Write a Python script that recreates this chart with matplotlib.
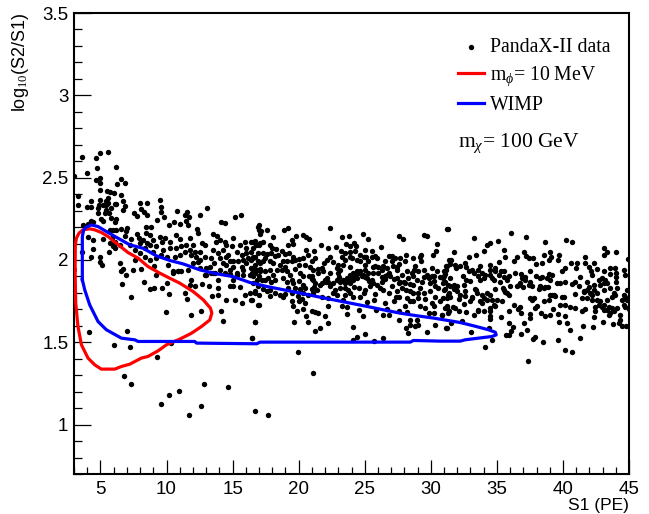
import numpy as np
import matplotlib
matplotlib.use('Agg')
import matplotlib.pyplot as plt
from matplotlib.ticker import MultipleLocator, FixedLocator

# values: (S1, log10(S2/S1))
data_low_s1 = [
 (3.58,2.624),(4.69,2.618),(4.97,2.652),(5.6,2.656),(4.74,2.557),(6.16,2.563),(3.98,2.527),(3.02,2.507),
 (4.7,2.486),(4.97,2.496),(5.0,2.47),(6.56,2.492),(6.25,2.46),(6.86,2.466),(5.0,2.426),(5.47,2.42),
 (5.7,2.413),(6.0,2.405),(6.56,2.393),(3.33,2.391),(3.33,2.332),(4.3,2.359),(3.98,2.324),(4.26,2.324),
 (5.0,2.365),(5.6,2.379),(5.58,2.349),(5.4,2.334),(4.89,2.335),(5.2,2.335),(4.82,2.288),(5.32,2.288),
 (5.65,2.284),(5.07,2.248),(5.2,2.239),(5.83,2.254),(6.08,2.233),(6.2,2.248),(6.71,2.361),(6.84,2.329),
 (6.2,2.341),(6.71,2.304),(7.52,2.288),(7.77,2.268),(8.03,2.349),(8.53,2.345),(8.1,2.308),(8.28,2.294),
 (8.53,2.274),(9.51,2.365),(9.61,2.324),(9.61,2.294),(9.79,2.26),(9.29,2.244),(10.83,2.3),(11.56,2.294),
 (11.71,2.26),(12.52,2.276),(13.1,2.314),(11.38,2.274),(10.58,2.229),(10.2,2.213),(11.05,2.217),(11.46,2.239),
 (11.64,2.213),(12.34,2.189),(12.39,2.163),(8.48,2.199),(8.86,2.203),(8.43,2.166),(8.73,2.152),(7.04,2.193),
 (6.96,2.173),(6.59,2.187),(5.95,2.183),(6.2,2.183),(4.44,2.233),(4.26,2.239),(4.06,2.219),(3.68,2.213),
 (7.34,2.126),(7.8,2.158),(7.92,2.132),(7.97,2.106),(9.49,2.138),(9.87,2.132),(10.75,2.152),(9.69,2.112),
 (10.25,2.112),(11.0,2.126),(11.76,2.132),(12.01,2.092),(12.65,2.102),(12.9,2.092),(13.53,2.158),(13.83,2.146),
 (14.16,2.233),(14.46,2.223),(15.17,2.258),(15.6,2.274),(15.04,2.132),(13.73,2.112),(14.03,2.122),(14.41,2.112),
 (13.53,2.061),(13.91,2.041),(14.29,2.061),(14.67,2.031),(15.55,2.092),(15.93,2.112),(16.56,2.112),(16.05,2.071),
 (16.43,2.051),(16.94,2.203),(17.0,2.183),(16.81,2.092),(15.04,1.991),(15.42,1.991),(15.8,2.001),(16.18,2.011),
 (16.56,2.021),(14.54,1.97),(14.29,1.984),(13.28,1.96),(13.02,1.95),(12.9,2.021),(12.52,2.051),(12.14,2.051),
 (11.89,2.031),(11.38,2.051),(11.0,2.031),(10.63,2.017),(10.25,2.071),(9.24,2.082),(8.73,2.092),(8.35,2.071),
 (7.97,2.041),(7.6,2.061),(7.2,2.092),(6.46,2.092),(6.08,2.112),(6.08,2.071),(5.65,2.051),(4.44,2.067),
 (4.06,2.142),(4.44,2.122),(5.2,2.126),(3.61,2.051),(4.26,2.017),(4.94,2.021),(4.94,1.99),(5.12,1.972),
 (6.46,1.98),(6.71,1.944),(7.47,1.94),(8.1,1.944),(6.96,1.906),(8.73,2.0),(9.24,2.011),(9.06,1.964),
 (10.12,1.97),(10.88,1.93),(11.13,1.93),(11.64,1.94),(12.52,1.95),(12.9,1.91),(13.53,1.92),(13.58,1.98),
 (14.03,2.011),(15.3,1.92),(15.8,1.94),(16.31,1.91),(16.81,1.94),(17.06,1.93),(16.69,1.97),(16.05,2.041),
 (6.84,2.146),(5.88,2.132),(6.03,2.092),(4.82,2.314),(5.45,2.304),(5.83,2.318),(6.08,2.341),(5.45,2.359),
 (6.59,1.934),(6.61,1.857),(8.3,1.869),(8.73,1.823),(9.03,1.831),(10.05,1.863),(9.67,1.829),(10.2,1.792),
 (9.19,1.908),(7.32,1.774),(11.43,1.798),(11.53,1.76),(11.76,1.849),(12.14,1.843),(12.65,1.855),(13.2,1.839),
 (13.86,1.879),(13.91,1.829),(13.86,1.788),(13.45,1.78),(14.49,1.754),(15.22,1.758),(15.7,1.736),(15.93,1.788),
 (16.31,1.798),(16.69,1.802),(16.43,1.758),(16.99,1.727),(14.79,1.839),(15.04,1.839),(15.55,1.835),(9.94,1.681),
 (11.84,1.665),(12.6,1.693),(14.16,1.691),(14.29,1.632),(16.66,1.622),(16.46,1.523),(4.14,1.562),(7.04,1.568),
 (6.0,1.485),(7.27,1.47),(10.32,1.493),(9.26,1.412),(6.76,1.294),(7.32,1.246),(12.82,1.248),(14.64,1.23),
 (10.98,1.207),(10.2,1.181),(9.62,1.128),(12.6,1.11),(11.69,1.058),(16.69,1.084),(17.69,1.06),
 (10.5,1.93),(10.88,1.93),(11.89,1.879),(13.02,1.91),(13.66,1.92),(14.79,1.916),(15.3,1.91),(15.8,1.91),
 (16.56,1.9),(15.04,1.879),
 (14.54,2.092),(14.92,2.082),(15.3,2.051),(15.68,2.031),(16.43,2.0),(16.94,1.991),(14.79,1.991),(14.54,2.021),
 (13.4,2.011),(12.52,2.0),(12.27,2.021),(11.76,2.061),(11.13,2.082),(10.75,2.071),(11.51,2.092),(9.74,2.061),
 (9.62,2.031),(10.0,2.021),(8.23,2.122),(8.53,2.102),(8.98,2.122),(8.98,2.051),(8.35,2.021),(7.6,2.0),
 (5.7,2.183),(5.7,2.102),(5.95,2.082),(13.4,1.92),(14.03,1.94),(14.79,1.94),(15.04,1.96),(15.68,1.96),
 (16.05,1.98),(16.43,1.95),(14.41,1.92),(12.01,1.98),(12.39,1.99),(10.5,1.92),
]

data_mid_s1 = [
 (17.03,2.21),(17.15,2.175),(17.58,2.18),(17.08,2.16),(18.04,2.14),(18.87,2.183),(19.22,2.193),(22.38,2.193),
 (19.8,2.143),(20.36,2.151),(20.56,2.139),(20.82,2.126),(19.48,2.122),(19.6,2.096),(19.22,2.092),(21.67,2.088),
 (23.26,2.139),(23.82,2.147),(24.86,2.159),(25.28,2.128),(23.59,2.096),(24.2,2.102),(24.35,2.082),(23.9,2.082),
 (26.2,2.078),(27.63,2.143),(27.88,2.126),(29.45,2.151),(29.7,2.143),(31.2,2.189),(30.46,2.1),(30.4,2.056),
 (30.16,2.031),(16.7,2.118),(16.4,2.112),(17.33,2.112),(17.08,2.102),(17.03,2.09),(16.57,2.072),(17.84,2.092),
 (17.96,2.072),(18.29,2.066),(17.28,2.045),(17.58,2.037),(17.89,2.045),(17.46,2.011),(17.28,1.991),(16.7,2.017),
 (16.52,2.011),(18.21,2.025),(18.47,2.031),(18.77,2.052),(18.97,2.037),(19.3,2.041),(19.55,2.021),(19.73,2.001),
 (20.06,2.005),(19.48,1.991),(20.56,2.062),(20.74,2.031),(21.19,2.052),(21.24,2.011),(20.99,1.995),(22.25,2.072),
 (22.81,2.078),(23.19,2.052),(23.52,2.041),(23.9,2.048),(24.27,2.052),(25.03,2.062),(25.54,2.052),(25.79,2.027),
 (25.92,2.011),(24.91,2.015),(25.1,2.017),(24.4,2.001),(23.31,2.015),(23.9,2.015),(22.38,2.021),(22.13,1.997),
 (21.93,1.981),(22.63,1.985),(26.8,2.027),(27.05,2.025),(26.55,1.991),(26.42,1.965),(27.13,1.965),(27.43,1.96),
 (27.68,2.011),(28.14,2.031),(28.06,1.991),(27.63,1.977),(29.25,2.031),(29.2,2.015),(29.25,1.991),(28.82,1.965),
 (28.74,1.94),(28.57,1.92),(31.2,1.965),(31.4,1.997),(30.97,1.93),(30.21,1.90),(29.7,1.91),(29.45,1.896),
 (16.83,1.94),(17.08,1.944),(16.7,1.92),(17.03,1.904),(17.46,1.93),(17.71,1.89),(17.89,1.869),(17.46,1.879),
 (18.21,1.879),(18.34,1.94),(18.72,1.94),(18.97,1.956),(19.1,1.93),(19.35,1.91),(19.73,1.944),(19.48,1.879),
 (20.11,1.92),(20.36,1.904),(20.06,1.875),(20.87,1.956),(20.99,1.90),(21.12,1.879),(21.24,1.859),(21.5,1.944),
 (21.75,1.95),(22.0,1.879),(22.25,1.869),(21.75,1.859),(22.94,1.95),(23.01,1.92),(22.89,1.879),(23.14,1.869),
 (23.64,1.89),(23.9,1.91),(24.15,1.92),(24.4,1.93),(24.65,1.93),(25.03,1.94),(25.28,1.92),(23.9,1.859),
 (24.15,1.879),(24.4,1.89),(24.78,1.90),(25.16,1.89),(25.54,1.879),(25.79,1.965),(26.04,1.96),(26.29,1.896),
 (26.67,1.91),(26.93,1.90),(26.55,1.884),(27.43,1.89),(27.68,1.869),(28.06,1.859),(28.44,1.853),(28.69,1.849),
 (29.83,1.89),(30.08,1.904),(30.21,1.875),(30.97,1.90),(31.09,1.869),(31.47,1.89),(16.57,1.859),(16.95,1.839),
 (17.33,1.823),(17.58,1.809),(17.84,1.819),(18.21,1.799),(18.59,1.788),(18.97,1.794),(19.22,1.829),(19.73,1.829),
 (20.11,1.823),(20.49,1.829),(20.99,1.823),(21.12,1.799),(19.48,1.799),(22.76,1.819),(23.14,1.829),(23.52,1.829),
 (23.77,1.819),(23.9,1.799),(24.2,1.835),(24.53,1.829),(25.41,1.839),(25.79,1.794),(26.17,1.829),(27.05,1.839),
 (27.81,1.829),(28.14,1.819),(28.44,1.809),(28.69,1.799),(29.2,1.829),(29.45,1.799),(30.51,1.829),(30.97,1.819),
 (31.35,1.799),(16.45,1.758),(17.03,1.786),(16.95,1.726),(19.48,1.748),(19.6,1.722),(20.06,1.748),(20.23,1.764),
 (20.49,1.738),(20.36,1.701),(19.9,1.687),(20.99,1.693),(21.24,1.681),(21.5,1.677),(22.25,1.718),(22.0,1.657),
 (20.56,1.657),(19.68,1.625),(20.69,1.625),(22.25,1.62),(16.67,1.622),(22.94,1.788),(23.39,1.758),(23.26,1.718),
 (23.64,1.714),(24.53,1.697),(23.64,1.673),(24.86,1.657),(25.16,1.742),(25.71,1.758),(25.87,1.697),(26.55,1.738),
 (26.42,1.667),(26.8,1.667),(26.67,1.701),(27.38,1.778),(27.23,1.748),(28.06,1.718),(27.56,1.687),(28.19,1.683),
 (27.56,1.633),(28.39,1.637),(28.39,1.606),(28.95,1.637),(29.07,1.606),(28.82,1.6),(28.14,1.586),(28.24,1.556),
 (29.7,1.56),(30.34,1.602),(31.22,1.586),(29.07,1.768),(29.58,1.762),(30.08,1.738),(30.21,1.718),(29.2,1.718),
 (29.58,1.707),(28.69,1.748),(29.83,1.677),(30.21,1.677),(30.84,1.667),(31.22,1.718),(31.35,1.687),(24.1,1.592),
 (24.4,1.535),(25.03,1.55),(24.1,1.515),(25.71,1.509),(26.37,1.529),(19.93,1.444),(21.07,1.313),(21.24,1.568),
 (21.62,1.588),(16.47,1.523),
 (20.99,1.884),(20.81,1.904),(21.17,1.835),(21.37,1.819),(21.62,1.849),(22.08,1.869),(22.38,1.839),(22.63,1.859),
 (23.09,1.896),(23.34,1.879),(23.52,1.859),(23.69,1.875),(23.95,1.89),(24.15,1.9),(24.35,1.91),(24.53,1.92),
 (24.85,1.91),(25.03,1.896),(25.36,1.875),(25.66,1.863),(25.92,1.849),(26.29,1.869),(26.55,1.904),(26.8,1.92),
 (27.18,1.884),(27.56,1.859),(27.94,1.869),(28.31,1.89),(28.69,1.904),(28.95,1.879),(29.32,1.869),(29.96,1.859),
 (30.33,1.839),(30.71,1.896),(31.17,1.94),(23.14,1.94),(23.01,1.97),(23.52,2.001),(24.02,2.011),(24.65,1.991),
 (25.03,1.97),(25.28,1.991),(25.66,1.96),(24.65,2.031),(25.03,2.021),(25.54,2.021),(23.9,1.96),(23.39,1.97),
 (22.38,1.92),(22.13,1.89),(21.88,1.93),(21.5,1.92),(21.12,1.94),(20.49,1.97),(20.36,2.011),(20.06,1.97),
 (19.1,1.991),(18.85,1.991),(18.59,1.97),(18.09,1.981),(17.84,1.991),(17.08,1.981),(16.95,2.041),(16.57,1.95),
 (16.45,1.92),(17.84,1.94),(18.09,1.91),(18.85,1.89),(19.1,1.869),(19.6,1.859),(20.36,1.849),(17.2,1.879),
 (16.83,1.879),(26.42,1.819),(26.8,1.799),(27.43,1.809),(27.56,1.778),(28.19,1.768),(28.44,1.748),(29.07,1.799),
 (29.96,1.809),(30.33,1.778),(30.71,1.748),(25.03,1.819),(24.91,1.799),(24.65,1.778),(24.15,1.778),(23.52,1.788),
 (22.63,1.799),(22.25,1.768),(21.75,1.778),(20.74,1.788),(20.36,1.799),(19.98,1.782),(18.85,1.778),(17.84,1.782),
 (16.7,1.809),(27.43,1.94),(27.81,1.91),(28.19,1.93),(29.07,1.93),(29.45,1.94),(30.08,1.95),(30.46,1.93),
 (26.67,1.95),(26.29,1.94),(26.04,1.92),(25.66,1.92),(27.05,1.991),(27.3,2.011),(28.69,2.011),
]

data_high_s1 = [
 (31.27,2.187),(33.24,2.132),(36.04,2.163),(37.22,2.138),(38.64,2.11),(40.25,2.122),(40.71,2.11),(35.05,2.114),
 (34.45,2.102),(34.25,2.09),(33.99,2.055),(31.77,2.047),(33.39,2.031),(32.88,2.019),(35.56,2.061),(35.58,2.021),
 (35.15,1.987),(37.02,2.047),(37.17,2.025),(37.43,2.011),(37.73,2.013),(36.52,2.021),(36.32,1.993),(38.59,2.031),
 (38.99,2.047),(39.09,2.021),(39.7,2.031),(39.6,1.997),(38.92,1.997),(38.41,1.98),(37.96,1.974),(43.13,2.072),
 (43.34,2.051),(43.08,2.031),(44.02,2.047),(41.69,2.021),(44.9,2.005),(31.52,2.001),(31.47,1.976),(31.16,1.964),
 (31.85,1.97),(31.9,1.954),(32.22,1.966),(32.6,1.98),(32.68,1.956),(31.09,1.916),(30.91,1.889),(30.91,1.863),
 (32.43,1.904),(32.86,1.93),(33.11,1.94),(32.68,1.879),(32.93,1.875),(33.74,1.964),(33.61,1.94),(33.61,1.904),
 (33.87,1.92),(34.5,1.968),(34.5,1.94),(34.12,1.91),(34.45,1.91),(34.88,1.95),(34.75,1.879),(35.33,1.936),
 (35.51,1.93),(35.13,1.91),(35.2,1.869),(35.89,1.904),(35.76,1.879),(36.39,1.92),(36.82,1.916),(36.9,1.889),
 (37.15,1.895),(36.64,1.849),(36.97,1.835),(37.48,1.936),(37.53,1.869),(37.65,1.839),(37.96,1.904),(38.41,1.895),
 (38.92,1.916),(39.17,1.91),(38.29,1.843),(38.66,1.835),(38.84,1.835),(38.16,1.823),(39.55,1.859),(39.8,1.863),
 (40.18,1.865),(39.93,1.93),(40.18,1.95),(40.61,1.98),(41.06,1.984),(41.01,1.95),(41.64,1.98),(42.38,1.98),
 (41.95,1.96),(42.12,1.936),(42.58,1.946),(43.08,1.936),(43.54,1.95),(43.97,1.954),(43.59,1.916),(44.04,1.92),
 (41.31,1.899),(41.82,1.869),(42.2,1.91),(40.94,1.869),(40.68,1.855),(41.19,1.839),(41.62,1.814),(42.7,1.879),
 (42.96,1.889),(43.21,1.879),(42.83,1.849),(43.34,1.859),(44.04,1.869),(44.6,1.94),(44.72,1.91),(31.09,1.823),
 (31.47,1.843),(31.77,1.823),(31.27,1.788),(30.96,1.768),(32.22,1.788),(32.6,1.782),(31.97,1.814),(33.36,1.823),
 (33.49,1.798),(33.11,1.768),(32.93,1.748),(34.0,1.768),(34.5,1.788),(34.62,1.758),(35.0,1.758),(35.38,1.748),
 (33.87,1.738),(32.48,1.732),(35.51,1.818),(35.76,1.798),(34.83,1.823),(36.27,1.727),(36.77,1.717),(36.57,1.701),
 (37.53,1.768),(37.78,1.768),(38.54,1.748),(38.92,1.758),(39.17,1.788),(39.42,1.782),(40.05,1.778),(39.8,1.727),
 (40.18,1.727),(40.51,1.713),(40.94,1.707),(41.44,1.687),(41.64,1.703),(40.94,1.792),(41.44,1.772),(41.82,1.768),
 (42.2,1.788),(42.58,1.758),(42.83,1.748),(42.45,1.717),(43.08,1.727),(42.45,1.687),(42.32,1.653),(43.08,1.697),
 (43.46,1.667),(43.71,1.707),(44.09,1.707),(43.71,1.778),(43.97,1.788),(44.47,1.758),(44.72,1.717),(44.98,1.701),
 (44.35,1.667),(44.35,1.636),(43.0,1.626),(43.76,1.61),(44.22,1.616),(44.47,1.6),(44.8,1.6),(44.85,1.818),
 (44.6,1.788),(31.09,1.707),(31.67,1.717),(31.34,1.677),(32.1,1.687),(32.68,1.683),(33.24,1.667),(33.61,1.687),
 (34.0,1.693),(34.5,1.707),(34.88,1.721),(34.5,1.657),(34.45,1.64),(35.33,1.653),(35.89,1.687),(35.89,1.62),
 (36.21,1.592),(37.02,1.616),(36.82,1.677),(37.53,1.673),(37.53,1.646),(37.91,1.707),(38.03,1.721),(38.36,1.677),
 (38.66,1.657),(38.99,1.663),(39.24,1.701),(39.6,1.671),(39.67,1.626),(40.18,1.657),(40.31,1.62),(40.51,1.576),
 (41.49,1.6),(42.25,1.594),(41.26,1.525),(37.28,1.576),(36.82,1.551),(36.06,1.566),(35.89,1.545),(35.71,1.543),
 (34.67,1.515),(34.07,1.472),(33.06,1.565),(31.16,1.586),(31.52,1.616),(32.35,1.632),(34.37,1.586),(30.84,1.667),
 (37.9,1.531),(37.73,1.519),(38.49,1.499),(39.6,1.513),(40.18,1.456),(40.71,1.444),(37.33,1.389),
 (35.63,1.808),(35.46,1.829),(35.89,1.788),(31.34,1.849),(31.72,1.849),(32.02,1.843),(31.21,1.768),(31.42,1.774),
 (32.17,1.762),(32.6,1.814),(32.53,1.849),(33.44,1.818),(34.25,1.798),(34.25,1.758),(33.74,1.748),(33.61,1.697),
 (34.5,1.687),(34.75,1.727),(38.29,1.833),(38.54,1.829),(37.15,1.879),(36.77,1.859),(37.4,1.849),(37.65,1.758),
 (39.3,1.788),(39.04,1.788),(39.93,1.778),(42.33,1.818),(42.58,1.798),(42.07,1.798),(41.82,1.818),(41.57,1.808),
 (41.95,1.835),(42.33,1.849),(43.08,1.859),(43.59,1.829),(43.84,1.798),(43.34,1.758),(42.96,1.717),(43.34,1.697),
 (43.59,1.677),(43.84,1.687),(42.7,1.727),(42.2,1.758),(44.72,1.778),(44.85,1.758),(44.6,1.727),(43.46,1.717),
 (44.09,1.829),(44.02,1.895),(43.13,1.818),(33.24,1.92),(33.99,1.889),(34.62,1.889),(34.88,1.936),(33.74,1.879),
 (35.51,1.899),(36.01,1.839),(38.29,1.889),(38.79,1.889),(39.04,1.879),(36.52,1.839),(31.21,1.707),(31.85,1.707),
 (33.11,1.778),(33.87,1.788),
]

# contours
red_s1 = [3.08,3.13,3.3,3.56,4.06,4.57,5.07,6.08,6.59,7.22,8.1,8.6,9.36,10,11,11.89,12.65,13.28,13.43,13.33,
          12.78,12.02,11.01,10.25,9.49,8.6,7.85,7.09,6.2,5.58,5.07,4.57,4.19,3.68,3.38,3.18,3.1,3.08]
red_log = [1.94,1.738,1.596,1.485,1.404,1.363,1.337,1.337,1.353,1.367,1.404,1.414,1.448,1.485,1.519,1.555,1.596,1.636,1.677,1.707,
           1.758,1.808,1.859,1.889,1.92,1.96,2.011,2.045,2.102,2.142,2.167,2.183,2.189,2.183,2.163,2.132,2.092,1.94]

blue_s1 = [3.63,3.63,3.73,3.93,4.31,4.82,5.32,6.2,7.22,8.23,9.24,10.25,11.26,12.52,13.78,15.04,16.32,17.58,18.85,20.11,
           21.37,22.63,23.9,25.16,26.42,27.68,28.95,30.21,32.23,33.24,34.37,34.88,34.95,34.62,33.99,32.6,32.22,30.71,28.69,
           28.44,17.08,16.83,12.27,12.14,7.85,7.6,6.59,5.45,4.82,4.19,3.81,3.63]
blue_log = [1.88,2.142,2.183,2.199,2.213,2.203,2.179,2.138,2.092,2.071,2.025,1.997,1.976,1.94,1.916,1.899,1.863,1.839,1.819,1.799,
            1.778,1.758,1.738,1.718,1.697,1.677,1.661,1.647,1.62,1.6,1.576,1.561,1.545,1.535,1.529,1.515,1.507,1.507,1.511,
            1.501,1.501,1.491,1.495,1.505,1.505,1.515,1.525,1.576,1.626,1.727,1.819,1.88]

plt.rcParams['font.family'] = 'Liberation Sans'
plt.rcParams['mathtext.fontset'] = 'custom'
plt.rcParams['mathtext.rm'] = 'Liberation Serif'
plt.rcParams['mathtext.it'] = 'Liberation Serif:italic'

fig = plt.figure(figsize=(6.49, 5.14), dpi=100)
ax = fig.add_axes([74/649, 1-474/514, (629-74)/649, (474-13)/514])

pts = np.array(data_low_s1 + data_mid_s1 + data_high_s1)
ax.scatter(pts[:, 0], pts[:, 1], s=15, c='k', linewidths=0, label='PandaX-II data', zorder=2)
ax.plot(red_s1, red_log, color='#ff0000', lw=2.3, label=r'$\mathrm{m}_{\phi}$= 10 MeV', zorder=3)
ax.plot(blue_s1, blue_log, color='#0000ff', lw=2.3, label='WIMP', zorder=4)

ax.set_xlim(3, 45)
ax.set_ylim(0.7, 3.5)
ax.xaxis.set_major_locator(MultipleLocator(5))
ax.xaxis.set_minor_locator(MultipleLocator(1))
ax.yaxis.set_major_locator(FixedLocator([1, 1.5, 2, 2.5, 3, 3.5]))
ax.yaxis.set_major_formatter(matplotlib.ticker.FuncFormatter(lambda v, p: '%g' % v))
ax.yaxis.set_minor_locator(MultipleLocator(0.1))

ax.tick_params(axis='x', which='major', direction='in', length=10, width=0.9, labelsize=13.5, pad=5)
ax.tick_params(axis='x', which='minor', direction='in', length=5, width=0.9)
ax.tick_params(axis='y', which='major', direction='in', length=12, width=0.9, labelsize=13.5, pad=4)
ax.tick_params(axis='y', which='minor', direction='in', length=6, width=0.9)
for s in ax.spines.values():
    s.set_linewidth(1.5)

ax.set_xlabel('S1 (PE)', fontsize=12.5, loc='right', labelpad=0)
ax.set_ylabel(r'log$_{10}$(S2/S1)', fontsize=13, loc='top', labelpad=8)

leg = ax.legend(loc='upper left', bbox_to_anchor=(0.691, 0.946), frameon=False, handlelength=1.35,
                handletextpad=0.3, labelspacing=0.4, borderpad=0, borderaxespad=0,
                prop={'family': 'Liberation Serif', 'size': 14.2})
ax.text(0.691, 0.7175, r'$\mathrm{m}_{\chi}$= 100 GeV', transform=ax.transAxes, ha='left', va='center',
        family='Liberation Serif', fontsize=15.5)

fig.savefig('out.png', dpi=100)
